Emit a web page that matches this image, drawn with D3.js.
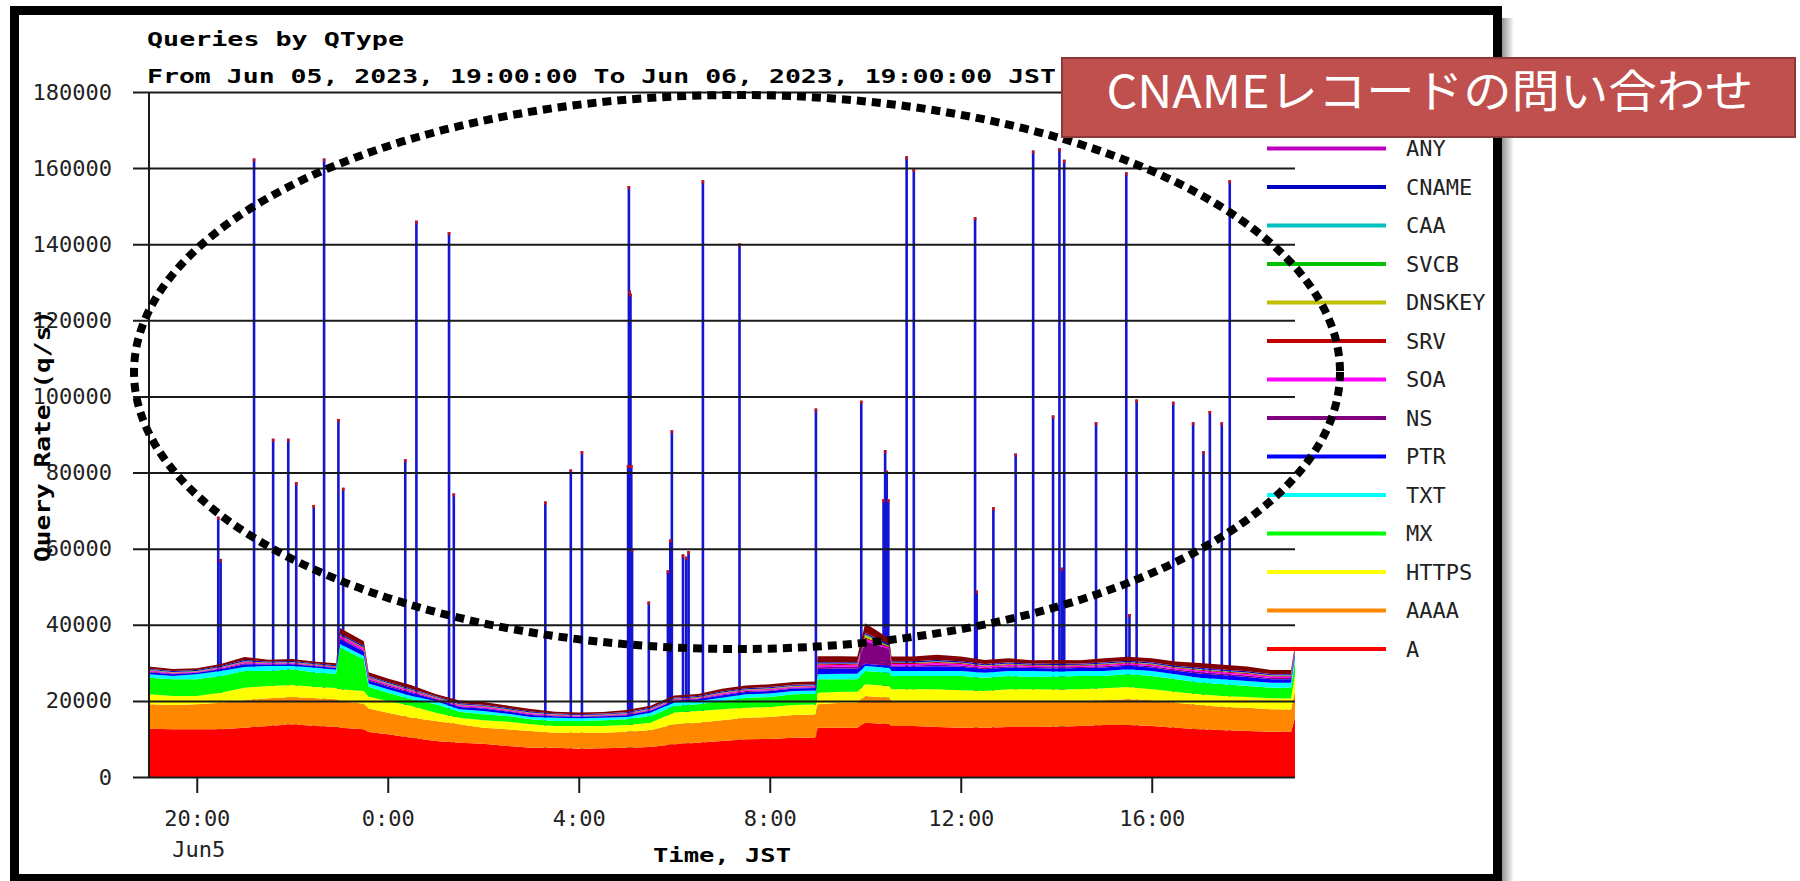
<!DOCTYPE html>
<html>
<head>
<meta charset="utf-8">
<script src="https://cdn.jsdelivr.net/npm/d3@7"></script>
<style>
  html, body { margin: 0; padding: 0; background: #fff; }
  svg { display: block; }
</style>
</head>
<body>
<div id="chart"></div>
<script>
// --- samples, Jun 05 19:00 -> Jun 06 19:00 JST (half-hourly, plus a few at sharp changes) ---
const times = [
  "2023-06-05 19:00", "2023-06-05 19:30", "2023-06-05 20:00", "2023-06-05 20:30", "2023-06-05 21:00", "2023-06-05 21:30",
  "2023-06-05 22:00", "2023-06-05 22:30", "2023-06-05 22:55", "2023-06-05 23:00", "2023-06-05 23:30", "2023-06-05 23:36",
  "2023-06-06 00:00", "2023-06-06 00:30",
  "2023-06-06 01:00", "2023-06-06 01:30", "2023-06-06 02:00", "2023-06-06 02:30", "2023-06-06 03:00", "2023-06-06 03:30",
  "2023-06-06 04:00", "2023-06-06 04:30", "2023-06-06 05:00", "2023-06-06 05:30", "2023-06-06 06:00", "2023-06-06 06:30",
  "2023-06-06 07:00", "2023-06-06 07:30", "2023-06-06 08:00", "2023-06-06 08:30", "2023-06-06 08:58", "2023-06-06 09:00",
  "2023-06-06 09:30", "2023-06-06 09:50", "2023-06-06 10:00", "2023-06-06 10:30", "2023-06-06 10:33", "2023-06-06 11:00",
  "2023-06-06 11:30", "2023-06-06 12:00", "2023-06-06 12:30",
  "2023-06-06 13:00", "2023-06-06 13:30", "2023-06-06 14:00", "2023-06-06 14:30", "2023-06-06 15:00", "2023-06-06 15:30",
  "2023-06-06 16:00", "2023-06-06 16:30", "2023-06-06 17:00", "2023-06-06 17:30", "2023-06-06 18:00", "2023-06-06 18:30",
  "2023-06-06 18:55", "2023-06-06 19:00"
];

// query rate per qtype (q/s)
const aVals = [
  12700, 12530, 12530, 12530, 12970, 13400, 13840, 13400, 13200, 12970, 12530, 11800, 11210, 10340,
  9460, 9020, 8760, 8150, 7710, 7710, 7450, 7530, 7710, 7880, 8590, 9020,
  9460, 9900, 9990, 10340, 10400, 12970, 12970, 12970, 14280, 13840, 13400, 13400, 13140, 12970, 12970,
  13140, 13140, 13230, 13400, 13670, 13670, 13400, 12970, 12530, 12260, 12090, 11910, 11900, 15590
];
const aaaaVals = [
  6400, 6400, 6570, 7010, 7180, 7270, 7180, 7270, 7200, 7010, 6750, 6200, 5690, 5260,
  5260, 4820, 4210, 4380, 4380, 3940, 4210, 4120, 4210, 4380, 5260, 5260,
  5430, 5690, 5780, 5960, 6000, 6130, 6570, 6570, 7010, 7010, 6570, 6570, 6830, 7010, 6830,
  6830, 6830, 6750, 6570, 6480, 6750, 6750, 6570, 6400, 6130, 6130, 5870, 5870, 7010
];
const httpsVals = [
  2630, 2370, 2190, 2630, 3330, 3240, 3150, 2980, 3000, 3070, 3330, 3100, 3070, 3070,
  2190, 1750, 1930, 2020, 1750, 1750, 1750, 1750, 1750, 2020, 3070, 3070,
  2890, 2630, 2630, 2630, 2650, 3070, 2890, 2890, 3070, 3070, 3070, 3070, 3070, 2800, 2800,
  3070, 3070, 2980, 3070, 3150, 3240, 2890, 2890, 2800, 2890, 2800, 2890, 2890, 4380
];
const mxVals = [
  4380, 4380, 4380, 4380, 4380, 3940, 4120, 3770, 3700, 11000, 8320, 2600, 2190, 1750,
  2190, 1580, 1580, 1490, 1310, 1310, 1310, 1490, 1490, 1750, 1750, 1750,
  2190, 2630, 2630, 2800, 2800, 3500, 3240, 3240, 3500, 3500, 3500, 3500, 3500, 3770, 3500,
  3500, 3240, 3420, 3500, 3240, 3330, 3500, 3240, 3070, 3070, 2890, 2800, 2800, 3500
];
const txtVals = [
  880, 880, 1310, 1310, 1050, 1310, 880, 1310, 1100, 880, 880, 880, 880, 880,
  880, 610, 880, 610, 610, 880, 700, 700, 610, 880, 880, 880,
  880, 880, 880, 880, 880, 1310, 1490, 1490, 1310, 1310, 1310, 1310, 1310, 1310, 1310,
  1310, 1580, 1310, 1310, 1310, 1310, 1310, 1310, 1310, 1310, 1310, 1310, 1310, 1310
];
const ptrVals = [
  530, 470, 400, 480, 720, 420, 460, 390, 420, 1240, 1090, 800, 760, 790,
  470, 630, 620, 570, 560, 390, 380, 370, 470, 480, 470, 460,
  630, 620, 660, 630, 640, 1390, 1330, 1300, 600, 500, 1090, 1090, 1240, 1080, 930,
  940, 780, 840, 780, 930, 940, 930, 920, 1090, 1080, 1090, 930, 930, 780
];
const nsVals = [
  180, 160, 130, 150, 250, 140, 170, 130, 140, 420, 370, 280, 280, 260,
  160, 210, 220, 190, 200, 130, 130, 125, 160, 150, 160, 170,
  210, 220, 230, 210, 215, 480, 460, 450, 5970, 4320, 370, 370, 430, 380, 320,
  320, 270, 290, 270, 320, 310, 330, 320, 370, 380, 370, 320, 320, 270
];
const soaVals = [
  200, 180, 140, 190, 270, 160, 170, 140, 150, 460, 400, 300, 300, 290,
  180, 230, 240, 210, 200, 140, 140, 135, 180, 170, 180, 180,
  230, 230, 240, 230, 235, 520, 490, 480, 600, 400, 400, 400, 460, 400, 350,
  340, 290, 310, 290, 350, 350, 340, 350, 400, 400, 410, 350, 350, 290
];
const srvVals = [
  120, 110, 100, 110, 150, 100, 110, 100, 100, 180, 200, 160, 150, 150,
  110, 130, 130, 120, 120, 100, 100, 100, 110, 110, 110, 110,
  130, 130, 140, 130, 130, 250, 240, 240, 300, 200, 220, 220, 240, 220, 190,
  190, 160, 170, 160, 190, 190, 190, 190, 220, 220, 220, 190, 190, 160
];
const dnskeyVals = [
  60, 55, 50, 60, 70, 55, 60, 50, 52, 80, 90, 72, 70, 65,
  55, 60, 60, 55, 55, 50, 50, 50, 55, 55, 60, 60,
  65, 65, 70, 65, 66, 90, 85, 85, 600, 300, 80, 80, 85, 80, 75,
  75, 70, 70, 70, 75, 75, 75, 75, 80, 80, 80, 75, 75, 70
];
const svcbVals = [
  40, 38, 35, 40, 45, 38, 40, 35, 36, 50, 55, 46, 45, 42,
  38, 40, 40, 38, 36, 34, 34, 34, 36, 38, 40, 40,
  42, 42, 44, 42, 42, 55, 52, 52, 200, 80, 50, 50, 52, 50, 48,
  48, 45, 46, 45, 48, 48, 48, 48, 50, 50, 50, 48, 48, 45
];
const caaVals = [
  30, 28, 26, 30, 32, 28, 30, 26, 27, 35, 38, 33, 32, 30,
  28, 30, 30, 28, 27, 25, 25, 25, 27, 28, 30, 30,
  31, 31, 32, 31, 31, 38, 36, 36, 80, 30, 35, 35, 36, 35, 34,
  34, 32, 33, 32, 34, 34, 34, 34, 35, 35, 35, 34, 34, 32
];
const cnameVals = [
  250, 240, 230, 250, 280, 240, 250, 230, 240, 320, 340, 290, 280, 270,
  230, 250, 250, 240, 230, 220, 220, 220, 230, 240, 250, 250,
  260, 260, 270, 260, 260, 340, 330, 330, 300, 250, 310, 310, 320, 310, 300,
  300, 280, 290, 280, 300, 300, 300, 300, 310, 310, 310, 300, 300, 280
];
const anyVals = [
  20, 18, 16, 20, 22, 18, 20, 16, 17, 25, 28, 23, 22, 20,
  18, 20, 20, 18, 17, 15, 15, 15, 17, 18, 20, 20,
  21, 21, 22, 21, 21, 28, 26, 26, 100, 68, 25, 25, 26, 25, 24,
  24, 22, 23, 22, 24, 24, 24, 24, 25, 25, 25, 24, 24, 22
];
// remaining qtypes (maroon band on top; its legend entry sits under the callout box)
const elseVals = [
  610, 540, 450, 530, 810, 480, 550, 440, 480, 1420, 1240, 950, 890, 890,
  540, 720, 710, 650, 660, 440, 440, 420, 540, 550, 540, 540,
  720, 720, 750, 720, 730, 1590, 1520, 1500, 2500, 1500, 1240, 1240, 1410, 1240, 1070,
  1060, 890, 960, 890, 1070, 1060, 1070, 1080, 1240, 1240, 1230, 1070, 1070, 890
];

// short CNAME bursts (5-min peaks, total q/s)
const cnameSpikes = [
  ["2023-06-05 20:27", 68400], ["2023-06-05 20:30", 57300], ["2023-06-05 21:12", 162500],
  ["2023-06-05 21:36", 88900], ["2023-06-05 21:55", 88900], ["2023-06-05 22:05", 77500],
  ["2023-06-05 22:27", 71500], ["2023-06-05 22:40", 162500], ["2023-06-05 22:58", 94100],
  ["2023-06-05 23:04", 76000], ["2023-06-06 00:22", 83500], ["2023-06-06 00:36", 146200],
  ["2023-06-06 01:17", 143200], ["2023-06-06 01:23", 74500], ["2023-06-06 03:18", 72400],
  ["2023-06-06 03:50", 80800], ["2023-06-06 04:04", 85600],
  ["2023-06-06 05:02", 82000], ["2023-06-06 05:03", 155300], ["2023-06-06 05:04", 127800],
  ["2023-06-06 05:05", 127000], ["2023-06-06 05:06", 82000], ["2023-06-06 05:07", 60000],
  ["2023-06-06 05:28", 46100], ["2023-06-06 05:52", 54300], ["2023-06-06 05:55", 62400],
  ["2023-06-06 05:57", 91100], ["2023-06-06 06:11", 58500], ["2023-06-06 06:15", 57900],
  ["2023-06-06 06:18", 59400], ["2023-06-06 06:36", 156800], ["2023-06-06 07:22", 140200],
  ["2023-06-06 08:58", 96800], ["2023-06-06 09:55", 98900],
  ["2023-06-06 10:23", 73000], ["2023-06-06 10:25", 85900], ["2023-06-06 10:27", 80500],
  ["2023-06-06 10:29", 73000], ["2023-06-06 10:52", 163100], ["2023-06-06 11:01", 159800],
  ["2023-06-06 12:18", 147100], ["2023-06-06 12:20", 49000], ["2023-06-06 12:41", 70900],
  ["2023-06-06 13:09", 85000], ["2023-06-06 13:31", 164600], ["2023-06-06 13:56", 95000],
  ["2023-06-06 14:04", 165200], ["2023-06-06 14:07", 55000], ["2023-06-06 14:10", 162200],
  ["2023-06-06 14:50", 93200], ["2023-06-06 15:28", 158900], ["2023-06-06 15:32", 42800],
  ["2023-06-06 15:41", 99200], ["2023-06-06 16:27", 98600], ["2023-06-06 16:52", 93200],
  ["2023-06-06 17:05", 85600], ["2023-06-06 17:13", 96200], ["2023-06-06 17:28", 93200],
  ["2023-06-06 17:38", 156800]
];

const yTicks = [0, 20000, 40000, 60000, 80000, 100000, 120000, 140000, 160000, 180000];
const xTicks = ["2023-06-05 20:00", "2023-06-06 00:00", "2023-06-06 04:00",
                "2023-06-06 08:00", "2023-06-06 12:00", "2023-06-06 16:00"];

// stack order, bottom -> top
const keys = ["A", "AAAA", "HTTPS", "MX", "TXT", "PTR", "NS", "SOA", "SRV",
              "DNSKEY", "SVCB", "CAA", "CNAME", "ANY", "else"];
const legendKeys = ["ANY", "CNAME", "CAA", "SVCB", "DNSKEY", "SRV", "SOA",
                    "NS", "PTR", "TXT", "MX", "HTTPS", "AAAA", "A"];

const seriesVals = {
  A: aVals, AAAA: aaaaVals, HTTPS: httpsVals, MX: mxVals, TXT: txtVals,
  PTR: ptrVals, NS: nsVals, SOA: soaVals, SRV: srvVals, DNSKEY: dnskeyVals,
  SVCB: svcbVals, CAA: caaVals, CNAME: cnameVals, ANY: anyVals, else: elseVals
};

const colors = {
  A: "#ff0000", AAAA: "#ff8800", HTTPS: "#ffff00", MX: "#00ff00", TXT: "#00ffff",
  PTR: "#0000ff", NS: "#800080", SOA: "#ff00ff", SRV: "#c00000", DNSKEY: "#c0c000",
  SVCB: "#00c000", CAA: "#00c0c0", CNAME: "#0000c0", ANY: "#c000c0", else: "#800000"
};

const parse = d3.timeParse("%Y-%m-%d %H:%M");
const rows = times.map((t, i) => {
  const r = { time: parse(t) };
  keys.forEach(k => r[k] = seriesVals[k][i]);
  return r;
});

const width = 1800, height = 881;
const font = "'DejaVu Sans Mono', 'Liberation Mono', monospace";

const svg = d3.select("#chart").append("svg")
  .attr("width", width)
  .attr("height", height)
  .style("font-family", font);

// shadow + frame around the pasted chart
const defs = svg.append("defs");
const grad = defs.append("linearGradient").attr("id", "shadow");
grad.append("stop").attr("offset", "0%").attr("stop-color", "#8a8a8a");
grad.append("stop").attr("offset", "100%").attr("stop-color", "#ffffff");
svg.append("rect")
  .attr("x", 1501).attr("y", 18).attr("width", 13).attr("height", 863)
  .attr("fill", "url(#shadow)");
svg.append("rect")
  .attr("x", 14.5).attr("y", 10.5).attr("width", 1483).attr("height", 868)
  .attr("fill", "#fff").attr("stroke", "#000").attr("stroke-width", 9);

// scales
const x = d3.scaleTime()
  .domain([parse(times[0]), parse(times[times.length - 1])])
  .range([149, 1295]);
const y = d3.scaleLinear()
  .domain([0, 180000])
  .range([777, 92]);

// spikes first, so the stacked areas cover their base
const spikes = svg.append("g");
spikes.selectAll("line.spike")
  .data(cnameSpikes)
  .join("line")
    .attr("class", "spike")
    .attr("x1", d => x(parse(d[0])))
    .attr("x2", d => x(parse(d[0])))
    .attr("y1", y(0))
    .attr("y2", d => y(d[1]))
    .attr("stroke", "#1414d2")
    .attr("stroke-width", 2.6);
spikes.selectAll("line.tip")
  .data(cnameSpikes)
  .join("line")
    .attr("class", "tip")
    .attr("x1", d => x(parse(d[0])))
    .attr("x2", d => x(parse(d[0])))
    .attr("y1", d => y(d[1]))
    .attr("y2", d => y(d[1]) + 3)
    .attr("stroke", "#d01010")
    .attr("stroke-width", 2.6);

// stacked areas
const stacked = d3.stack().keys(keys)(rows);
const area = d3.area()
  .x(d => x(d.data.time))
  .y0(d => y(d[0]))
  .y1(d => y(d[1]));

svg.append("g")
  .selectAll("path")
  .data(stacked)
  .join("path")
    .attr("d", area)
    .attr("fill", d => colors[d.key]);

// y axis with full-width grid lines
const yAxis = svg.append("g")
  .attr("transform", "translate(133,0)")
  .call(d3.axisLeft(y)
    .tickValues(yTicks)
    .tickFormat(d3.format("d"))
    .tickSize(-(1295 - 133))
    .tickPadding(21));
yAxis.select(".domain").remove();
yAxis.selectAll("line").attr("stroke", "#1a1a1a").attr("stroke-width", 2);
yAxis.selectAll("text")
  .attr("font-family", font)
  .attr("font-size", 22)
  .attr("fill", "#222");

svg.append("line")
  .attr("x1", x.range()[0]).attr("x2", x.range()[0])
  .attr("y1", y(180000)).attr("y2", y(0))
  .attr("stroke", "#1a1a1a").attr("stroke-width", 2);

// x axis
const xAxis = svg.append("g")
  .attr("transform", `translate(0,${y(0)})`)
  .call(d3.axisBottom(x)
    .tickValues(xTicks.map(parse))
    .tickSize(16)
    .tickPadding(17)
    .tickFormat(d3.timeFormat("%-H:%M")));
xAxis.select(".domain").remove();
xAxis.selectAll("line").attr("stroke", "#1a1a1a").attr("stroke-width", 2);
xAxis.selectAll("text")
  .attr("font-family", font)
  .attr("font-size", 22)
  .attr("fill", "#222");

svg.append("text")
  .attr("x", x(parse(xTicks[0])) + 2)
  .attr("y", 857)
  .attr("text-anchor", "middle")
  .attr("font-size", 22)
  .attr("fill", "#222")
  .text("Jun5");

// titles
svg.append("text")
  .attr("x", 147).attr("y", 46)
  .attr("font-size", 20).attr("font-weight", "bold")
  .attr("textLength", 257).attr("lengthAdjust", "spacingAndGlyphs")
  .text("Queries by QType");

svg.append("text")
  .attr("x", 147).attr("y", 83)
  .attr("font-size", 20).attr("font-weight", "bold")
  .attr("textLength", 909).attr("lengthAdjust", "spacingAndGlyphs")
  .text("From Jun 05, 2023, 19:00:00 To Jun 06, 2023, 19:00:00 JST");

svg.append("text")
  .attr("x", (x.range()[0] + x.range()[1]) / 2).attr("y", 862)
  .attr("text-anchor", "middle")
  .attr("font-size", 20).attr("font-weight", "bold")
  .attr("textLength", 138).attr("lengthAdjust", "spacingAndGlyphs")
  .text("Time, JST");

svg.append("text")
  .attr("transform", "translate(50,436) rotate(-90)")
  .attr("text-anchor", "middle")
  .attr("font-size", 21).attr("font-weight", "bold")
  .attr("textLength", 252).attr("lengthAdjust", "spacingAndGlyphs")
  .text("Query Rate (q/s)");

// legend
const ly = d3.scalePoint().domain(legendKeys).range([148.5, 649]);
const legend = svg.append("g");
legend.selectAll("line")
  .data(legendKeys)
  .join("line")
    .attr("x1", 1267).attr("x2", 1386)
    .attr("y1", d => ly(d)).attr("y2", d => ly(d))
    .attr("stroke", d => colors[d])
    .attr("stroke-width", 4);
legend.selectAll("text")
  .data(legendKeys)
  .join("text")
    .attr("x", 1406)
    .attr("y", d => ly(d))
    .attr("dy", "0.36em")
    .attr("font-size", 22)
    .attr("fill", "#222")
    .text(d => d);

// dotted highlight around the CNAME bursts
svg.append("ellipse")
  .attr("cx", 737).attr("cy", 372)
  .attr("rx", 603).attr("ry", 277)
  .attr("fill", "none")
  .attr("stroke", "#000")
  .attr("stroke-width", 8)
  .attr("stroke-dasharray", "9 6");

// callout box
svg.append("rect")
  .attr("x", 1062).attr("y", 58)
  .attr("width", 733).attr("height", 79)
  .attr("fill", "#c0504d")
  .attr("stroke", "#8c3836")
  .attr("stroke-width", 2);
svg.append("text")
  .attr("x", 1430).attr("y", 108)
  .attr("text-anchor", "middle")
  .attr("font-family", "'Noto Sans CJK JP', sans-serif")
  .attr("font-size", 45)
  .attr("fill", "#fff")
  .attr("textLength", 647).attr("lengthAdjust", "spacingAndGlyphs")
  .text("CNAMEレコードの問い合わせ");
</script>
</body>
</html>
